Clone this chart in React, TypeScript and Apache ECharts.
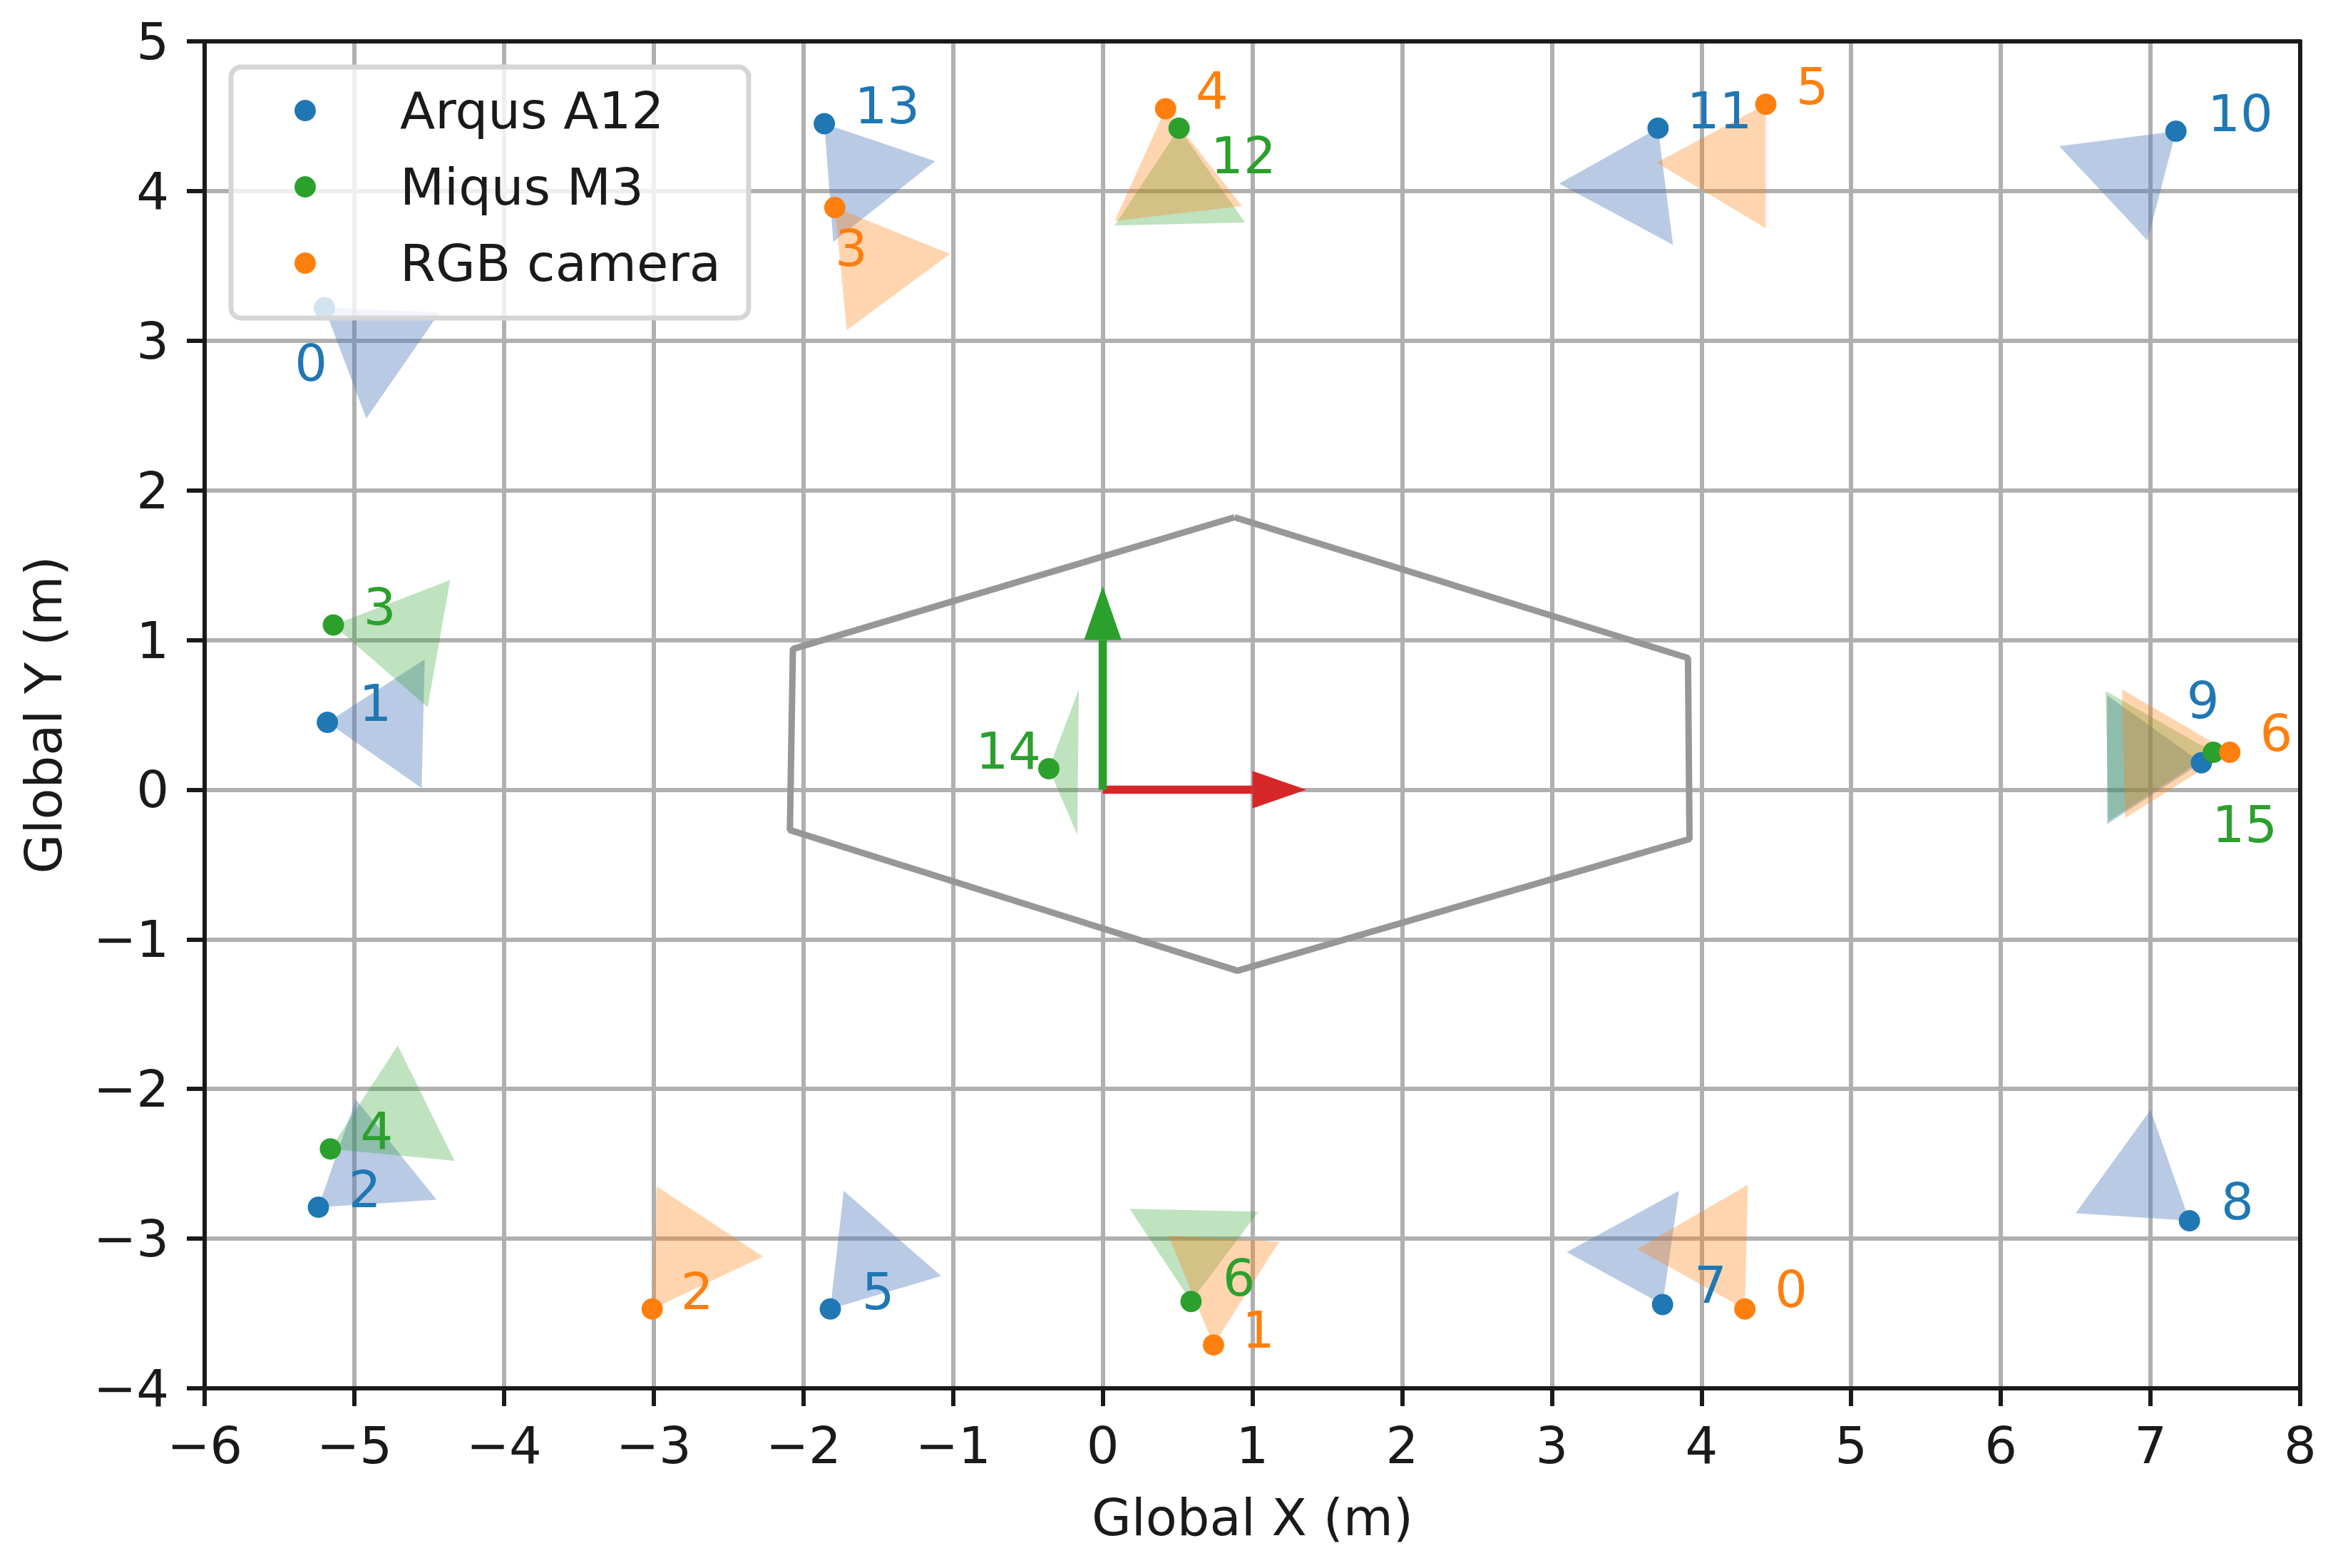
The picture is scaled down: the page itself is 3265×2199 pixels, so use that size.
import React, { useEffect, useRef } from "react";
import * as echarts from "echarts";

// ---------- data (metres, global frame) ----------
// Arqus A12 cameras
const arqusIds = [0, 1, 2, 5, 7, 8, 9, 10, 11, 13];
const arqusX = [-5.2, -5.18, -5.24, -1.82, 3.74, 7.26, 7.34, 7.17, 3.71, -1.86];
const arqusY = [3.22, 0.45, -2.79, -3.47, -3.44, -2.88, 0.18, 4.4, 4.42, 4.45];
const arqusFovAX = [-4.43, -4.53, -4.99, -1.73, 3.85, 7.0, 6.71, 6.39, 3.05, -1.12];
const arqusFovAY = [3.19, 0.87, -2.07, -2.68, -2.68, -2.14, 0.63, 4.3, 4.05, 4.2];
const arqusFovBX = [-4.92, -4.55, -4.45, -1.08, 3.1, 6.5, 6.71, 6.98, 3.81, -1.8];
const arqusFovBY = [2.48, 0.01, -2.74, -3.25, -3.09, -2.83, -0.23, 3.67, 3.64, 3.66];
const arqusLabelDX = [-0.09, 0.32, 0.31, 0.32, 0.32, 0.32, 0.01, 0.43, 0.41, 0.42];
const arqusLabelDY = [-0.37, 0.13, 0.12, 0.12, 0.13, 0.13, 0.42, 0.12, 0.12, 0.12];

// Miqus M3 cameras
const miqusIds = [3, 4, 6, 12, 14, 15];
const miqusX = [-5.14, -5.16, 0.59, 0.51, -0.36, 7.42];
const miqusY = [1.1, -2.4, -3.42, 4.42, 0.14, 0.25];
const miqusFovAX = [-4.36, -4.71, 0.18, 0.95, -0.16, 6.7];
const miqusFovAY = [1.4, -1.71, -2.8, 3.79, 0.67, 0.66];
const miqusFovBX = [-4.51, -4.33, 1.04, 0.08, -0.17, 6.72];
const miqusFovBY = [0.55, -2.48, -2.82, 3.77, -0.3, -0.21];
const miqusLabelDX = [0.31, 0.31, 0.32, 0.43, -0.27, 0.21];
const miqusLabelDY = [0.12, 0.12, 0.16, -0.18, 0.12, -0.48];

// RGB cameras
const rgbIds = [0, 1, 2, 3, 4, 5, 6];
const rgbX = [4.29, 0.74, -3.01, -1.79, 0.42, 4.43, 7.53];
const rgbY = [-3.47, -3.71, -3.47, 3.89, 4.55, 4.58, 0.25];
const rgbFovAX = [4.31, 1.18, -2.98, -1.02, 0.93, 3.7, 6.81];
const rgbFovAY = [-2.64, -3.02, -2.65, 3.58, 3.9, 4.19, 0.67];
const rgbFovBX = [3.57, 0.44, -2.27, -1.71, 0.08, 4.43, 6.83];
const rgbFovBY = [-3.07, -2.98, -3.12, 3.07, 3.8, 3.75, -0.19];
const rgbLabelDX = [0.31, 0.3, 0.3, 0.11, 0.31, 0.31, 0.31];
const rgbLabelDY = [0.13, 0.1, 0.12, -0.27, 0.12, 0.12, 0.13];

// capture volume outline (hexagon)
const hexX = [0.88, 3.91, 3.92, 0.9, -2.09, -2.07, 0.88];
const hexY = [1.82, 0.88, -0.33, -1.21, -0.27, 0.94, 1.82];

// global frame axes arrows (origin + direction)
const arrowX0 = [0, 0];
const arrowY0 = [0, 0];
const arrowDX = [1, 0];
const arrowDY = [0, 1];

// ---------- styles ----------
const FONT = "DejaVu Sans";
const FS = 72;
const INK = "#1a1a1a";
const BLUE = "#1f77b4";
const GREEN = "#2ca02c";
const ORANGE = "#ff7f0e";
const BLUE_FOV = "rgba(80,122,188,0.4)";
const GREEN_FOV = "rgba(44,160,44,0.3)";
const ORANGE_FOV = "rgba(255,127,14,0.33)";
const ARROW_COLORS = ["#d62728", "#2ca02c"];
const SHAFT_W = 0.055;
const HEAD_W = 0.25;
const HEAD_L = 0.36;

const minus = (v: number) => String(v).replace("-", "\u2212");

function scatterSeries(name: string, xs: number[], ys: number[], color: string) {
  return {
    type: "scatter",
    name,
    data: xs.map((x, i) => [x, ys[i]]),
    symbol: "circle",
    symbolSize: 30,
    itemStyle: { color, opacity: 1 },
    silent: true,
    z: 2,
  };
}

function fovSeries(
  name: string,
  xs: number[],
  ys: number[],
  ax: number[],
  ay: number[],
  bx: number[],
  by: number[],
  fill: string
) {
  return {
    type: "custom",
    name,
    silent: true,
    z: 2,
    encode: { x: [0, 2, 4], y: [1, 3, 5] },
    data: xs.map((x, i) => [x, ys[i], ax[i], ay[i], bx[i], by[i]]),
    renderItem: (params: any, api: any) => {
      const p0 = api.coord([api.value(0), api.value(1)]);
      const p1 = api.coord([api.value(2), api.value(3)]);
      const p2 = api.coord([api.value(4), api.value(5)]);
      return {
        type: "polygon",
        shape: { points: [p0, p1, p2] },
        style: { fill, stroke: null },
      };
    },
  };
}

function labelSeries(
  name: string,
  ids: number[],
  xs: number[],
  ys: number[],
  dx: number[],
  dy: number[],
  color: string
) {
  return {
    type: "custom",
    name,
    silent: true,
    z: 3,
    encode: { x: 0, y: 1 },
    data: xs.map((x, i) => [x, ys[i], dx[i], dy[i], ids[i]]),
    renderItem: (params: any, api: any) => {
      const p = api.coord([api.value(0) + api.value(2), api.value(1) + api.value(3)]);
      return {
        type: "text",
        x: p[0],
        y: p[1],
        style: {
          text: String(api.value(4)),
          fill: color,
          fontSize: FS,
          fontFamily: FONT,
          align: "center",
          verticalAlign: "middle",
        },
      };
    },
  };
}

function arrowSeries() {
  return {
    type: "custom",
    name: "frame",
    silent: true,
    z: 2,
    encode: { x: 0, y: 1 },
    data: arrowX0.map((x, i) => [x, arrowY0[i], arrowDX[i], arrowDY[i]]),
    renderItem: (params: any, api: any) => {
      const x0 = api.value(0);
      const y0 = api.value(1);
      const dx = api.value(2);
      const dy = api.value(3);
      const len = Math.hypot(dx, dy);
      const ux = dx / len;
      const uy = dy / len;
      const px = -uy;
      const py = ux;
      const bx = x0 + dx;
      const by = y0 + dy;
      const sw = SHAFT_W / 2;
      const hw = HEAD_W / 2;
      const shaft = [
        [x0 + px * sw, y0 + py * sw],
        [bx + px * sw, by + py * sw],
        [bx - px * sw, by - py * sw],
        [x0 - px * sw, y0 - py * sw],
      ].map((p) => api.coord(p));
      const head = [
        [bx + px * hw, by + py * hw],
        [bx + ux * HEAD_L, by + uy * HEAD_L],
        [bx - px * hw, by - py * hw],
      ].map((p) => api.coord(p));
      const color = ARROW_COLORS[params.dataIndex];
      return {
        type: "group",
        children: [
          { type: "polygon", shape: { points: shaft }, style: { fill: color } },
          { type: "polygon", shape: { points: head }, style: { fill: color } },
        ],
      };
    },
  };
}

export default function App() {
  const ref = useRef<HTMLDivElement>(null);

  useEffect(() => {
    if (!ref.current) return;
    const chart = echarts.init(ref.current, undefined, { renderer: "svg" });

    const axisCommon = {
      type: "value",
      axisLine: { show: true, onZero: false, lineStyle: { color: INK, width: 6 } },
      axisTick: { show: true, inside: false, length: 25, lineStyle: { color: INK, width: 6 } },
      axisLabel: {
        show: true,
        fontSize: FS,
        fontFamily: FONT,
        color: INK,
        formatter: minus,
      },
      splitLine: { show: true, lineStyle: { color: "#b0b0b0", width: 6 } },
      nameLocation: "middle",
      nameTextStyle: { fontSize: FS, fontFamily: FONT, color: INK },
    };

    const spine = {
      type: "value",
      axisLine: { show: true, onZero: false, lineStyle: { color: INK, width: 6 } },
      axisTick: { show: false },
      axisLabel: { show: false },
      splitLine: { show: false },
    };

    const option: any = {
      animation: false,
      backgroundColor: "#ffffff",
      textStyle: { fontFamily: FONT },
      grid: { left: 287, top: 58, width: 2939, height: 1889, containLabel: false },
      xAxis: [
        {
          ...axisCommon,
          position: "bottom",
          min: -6,
          max: 8,
          interval: 1,
          name: "Global X (m)",
          nameGap: 145,
          axisLabel: { ...axisCommon.axisLabel, margin: 44 },
        },
        { ...spine, position: "top", min: -6, max: 8, interval: 1 },
      ],
      yAxis: [
        {
          ...axisCommon,
          position: "left",
          min: -4,
          max: 5,
          interval: 1,
          name: "Global Y (m)",
          nameGap: 190,
          axisLabel: { ...axisCommon.axisLabel, margin: 50 },
        },
        { ...spine, position: "right", min: -4, max: 5, interval: 1 },
      ],
      legend: {
        data: ["Arqus A12", "Miqus M3", "RGB camera"],
        orient: "vertical",
        left: 324,
        top: 94,
        icon: "circle",
        itemWidth: 30,
        itemHeight: 30,
        itemGap: 35,
        padding: [25, 39, 41, 89],
        backgroundColor: "rgba(255,255,255,0.8)",
        borderColor: "#d6d6d6",
        borderWidth: 7,
        borderRadius: 14,
        selectedMode: false,
        textStyle: {
          fontSize: FS,
          fontFamily: FONT,
          color: INK,
          padding: [0, 0, 14, 113],
        },
        z: 10,
      },
      series: [
        {
          type: "line",
          name: "capture volume",
          data: hexX.map((x, i) => [x, hexY[i]]),
          symbol: "none",
          silent: true,
          lineStyle: { color: "#979797", width: 9 },
          z: 1,
        },
        arrowSeries(),
        scatterSeries("Arqus A12", arqusX, arqusY, BLUE),
        fovSeries("Arqus FOV", arqusX, arqusY, arqusFovAX, arqusFovAY, arqusFovBX, arqusFovBY, BLUE_FOV),
        scatterSeries("Miqus M3", miqusX, miqusY, GREEN),
        fovSeries("Miqus FOV", miqusX, miqusY, miqusFovAX, miqusFovAY, miqusFovBX, miqusFovBY, GREEN_FOV),
        scatterSeries("RGB camera", rgbX, rgbY, ORANGE),
        fovSeries("RGB FOV", rgbX, rgbY, rgbFovAX, rgbFovAY, rgbFovBX, rgbFovBY, ORANGE_FOV),
        labelSeries("Arqus ids", arqusIds, arqusX, arqusY, arqusLabelDX, arqusLabelDY, BLUE),
        labelSeries("Miqus ids", miqusIds, miqusX, miqusY, miqusLabelDX, miqusLabelDY, GREEN),
        labelSeries("RGB ids", rgbIds, rgbX, rgbY, rgbLabelDX, rgbLabelDY, ORANGE),
      ],
    };

    chart.setOption(option);
    return () => chart.dispose();
  }, []);

  return (
    <div
      ref={ref}
      style={{ position: "fixed", left: 0, top: 0, width: 3265, height: 2199, background: "#ffffff" }}
    />
  );
}
